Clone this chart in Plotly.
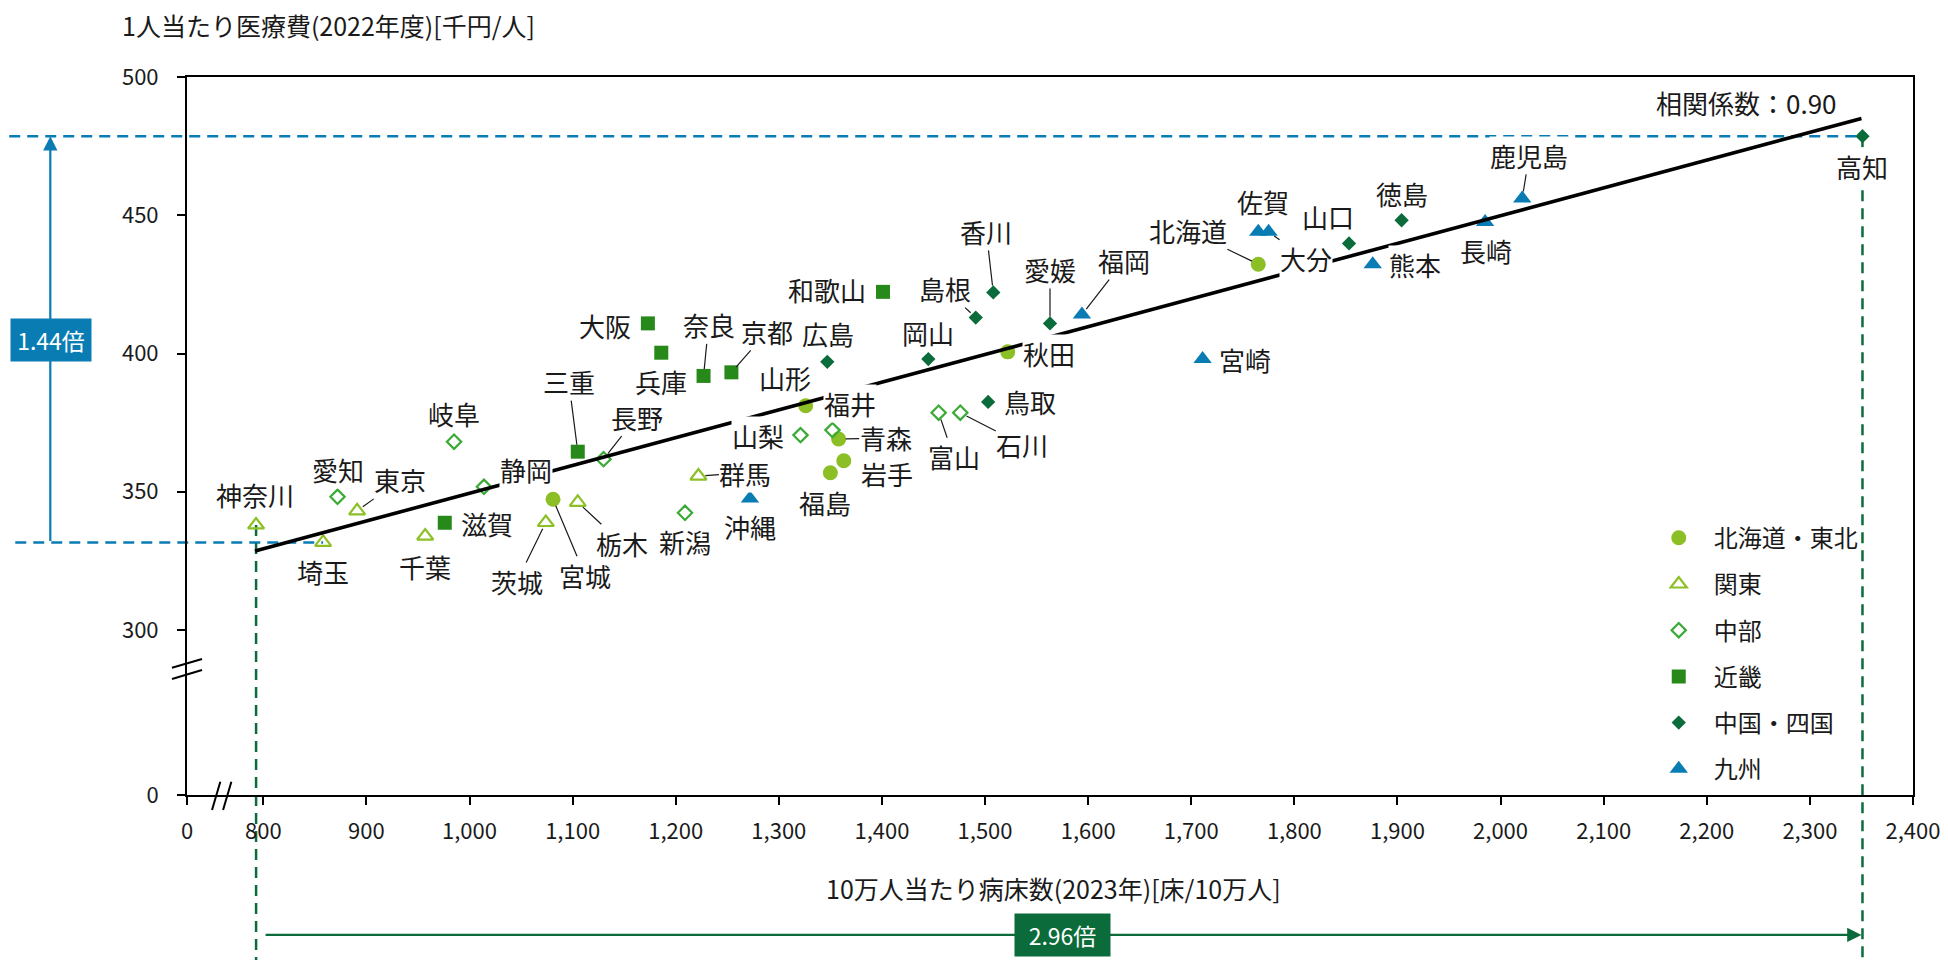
import plotly.graph_objects as go

# ---------------- data ----------------
regions = ["北海道・東北", "関東", "中部", "近畿", "中国・四国", "九州"]

tohoku_names = ["北海道", "青森", "岩手", "宮城", "秋田", "山形", "福島"]
tohoku_beds = [1765, 1358, 1363, 1081, 1522, 1326, 1350]
tohoku_cost = [432.3, 369.1, 361.2, 347.3, 400.6, 381.1, 356.9]

kanto_names = ["茨城", "栃木", "群馬", "埼玉", "千葉", "東京", "神奈川"]
kanto_beds = [1074, 1105, 1222, 858, 957, 891, 793]
kanto_cost = [338.9, 346.2, 355.7, 331.7, 334.0, 343.1, 338.0]

chubu_names = ["新潟", "富山", "石川", "福井", "山梨", "長野", "岐阜", "静岡", "愛知"]
chubu_beds = [1209, 1455, 1476, 1352, 1321, 1130, 985, 1014, 872]
chubu_cost = [342.4, 378.6, 378.6, 372.3, 370.5, 361.8, 368.1, 351.8, 348.2]

kinki_names = ["三重", "滋賀", "京都", "大阪", "兵庫", "奈良", "和歌山"]
kinki_beds = [1105, 976, 1254, 1173, 1186, 1227, 1401]
kinki_cost = [364.5, 338.8, 393.2, 410.9, 400.3, 391.9, 422.3]

chushi_names = ["鳥取", "島根", "岡山", "広島", "山口", "徳島", "香川", "愛媛", "高知"]
chushi_beds = [1503, 1491, 1445, 1347, 1853, 1904, 1508, 1563, 2351]
chushi_cost = [382.5, 413.0, 398.0, 397.0, 439.8, 448.2, 422.1, 410.9, 478.6]

kyushu_names = ["福岡", "佐賀", "長崎", "熊本", "大分", "宮崎", "鹿児島", "沖縄"]
kyushu_beds = [1594, 1765, 1985, 1876, 1775, 1711, 2021, 1272]
kyushu_cost = [414.1, 444.0, 447.6, 432.3, 444.0, 398.0, 456.1, 347.6]

trend_beds = [792, 2350]
trend_cost = [328.6, 485.0]

x_tick_values = [800, 900, 1000, 1100, 1200, 1300, 1400, 1500, 1600, 1700, 1800,
                 1900, 2000, 2100, 2200, 2300, 2400]
y_tick_values = [300, 350, 400, 450, 500]
corr_text = "相関係数：0.90"
ratio_cost_text = "1.44倍"
ratio_beds_text = "2.96倍"

# ---------------- styles / layout constants ----------------
FONT = "Noto Sans CJK JP"
X0_FAKE = 726.0      # axis position shown as "0" (broken axis)
Y0_FAKE = 240.35
XMAX, YMAX = 2400, 500

styles = [
    dict(symbol="circle", size=15, color="#8cbf26", lw=0),
    dict(symbol="triangle-up-open", size=14, color="#8cc026", lw=2.2),
    dict(symbol="diamond-open", size=11, color="#3aaa35", lw=2.2),
    dict(symbol="square", size=14, color="#26891a", lw=0),
    dict(symbol="diamond", size=11, color="#0b6b3a", lw=0),
    dict(symbol="triangle-up", size=16, color="#0a7cb4", lw=0),
]

# label offsets in pixels (dx right, dy down) and whether a leader line is drawn
label_pos = {
    "神奈川": (-1, -30, False), "埼玉": (0, 29, False), "愛知": (0, -27, False),
    "東京": (43, -31, True), "岐阜": (0, -28, False), "千葉": (0, 30, False),
    "滋賀": (42, 1, False), "静岡": (42, -17, False), "三重": (-9, -70, True),
    "長野": (33, -42, True), "茨城": (-29, 59, True), "宮城": (32, 76, True),
    "栃木": (44, 41, True), "新潟": (0, 29, False), "群馬": (47, -3, True),
    "沖縄": (0, 28, False), "福島": (-5, 30, False), "岩手": (43, 13, False),
    "青森": (47, -1, True), "山梨": (-42, 0, False), "福井": (18, -27, False),
    "山形": (-21, -28, False), "広島": (1, -28, False), "京都": (36, -41, True),
    "奈良": (5, -51, True), "兵庫": (0, 29, False), "大阪": (-43, 2, False),
    "和歌山": (-56, -2, False), "岡山": (0, -27, False), "島根": (-31, -29, True),
    "香川": (-7, -61, True), "愛媛": (0, -54, True), "福岡": (42, -54, True),
    "秋田": (41, 2, False), "鳥取": (42, 0, False), "富山": (15, 44, True),
    "石川": (62, 32, True), "宮崎": (42, 0, False), "北海道": (-70, -34, True),
    "佐賀": (5, -30, False), "大分": (37, 27, True), "山口": (-21, -27, False),
    "徳島": (0, -27, False), "熊本": (42, 0, False), "長崎": (1, 29, False),
    "鹿児島": (7, -43, True), "高知": (0, 30, False),
}

all_names = [tohoku_names, kanto_names, chubu_names, kinki_names, chushi_names, kyushu_names]
all_beds = [tohoku_beds, kanto_beds, chubu_beds, kinki_beds, chushi_beds, kyushu_beds]
all_cost = [tohoku_cost, kanto_cost, chubu_cost, kinki_cost, chushi_cost, kyushu_cost]

fig = go.Figure()
for reg, nm, bx, cy, st in zip(regions, all_names, all_beds, all_cost, styles):
    fig.add_trace(go.Scatter(
        x=bx, y=cy, mode="markers", name=reg, text=nm, legendgroup=reg,
        marker=dict(symbol=st["symbol"], size=st["size"], color=st["color"],
                    line=dict(width=st["lw"], color=st["color"])),
        hovertemplate="%{text}<br>%{x}<br>%{y}<extra></extra>",
    ))

fig.add_trace(go.Scatter(x=trend_beds, y=trend_cost, mode="lines",
                         line=dict(color="black", width=3.6), showlegend=False,
                         hoverinfo="skip"))

LABEL_FONT = dict(family=FONT, size=26, color="#1a1a1a")
annotations = []
for nm, bx, cy in zip(all_names, all_beds, all_cost):
    for n, xv, yv in zip(nm, bx, cy):
        dx, dy, leader = label_pos[n]
        a = dict(x=xv, y=yv, xref="x", yref="y", text=n, font=LABEL_FONT,
                 bgcolor="white", borderpad=0, xanchor="center", yanchor="middle")
        if leader:
            a.update(showarrow=True, arrowhead=0, arrowwidth=1.2, arrowcolor="#1a1a1a",
                     ax=dx, ay=dy, standoff=7)
        else:
            a.update(showarrow=False, xshift=dx, yshift=-dy)
        annotations.append(a)

# extreme values for the ratio guides
all_x = [v for lst in all_beds for v in lst]
all_y = [v for lst in all_cost for v in lst]
x_min, x_max = min(all_x), max(all_x)
y_min, y_max = min(all_y), max(all_y)
y_at_xmin = all_y[all_x.index(x_min)]
y_at_xmax = all_y[all_x.index(x_max)]
x_at_ymin = all_x[all_y.index(y_min)]
x_at_ymax = all_x[all_y.index(y_max)]


def xpaper(v):
    return (v - X0_FAKE) / (XMAX - X0_FAKE)


def ypaper(v):
    return (v - Y0_FAKE) / (YMAX - Y0_FAKE)


BLUE = "#0a7cb4"
GREEN = "#0b6b3a"
DASH = "11px,7px"
shapes = [
    dict(type="line", xref="paper", yref="y", x0=-0.103, x1=xpaper(x_at_ymax), y0=y_max, y1=y_max,
         line=dict(color=BLUE, width=2.5, dash=DASH), layer="below"),
    dict(type="line", xref="paper", yref="y", x0=-0.0995, x1=xpaper(x_at_ymin), y0=y_min, y1=y_min,
         line=dict(color=BLUE, width=2.5, dash=DASH), layer="below"),
    dict(type="line", xref="x", yref="paper", x0=x_min, x1=x_min, y0=ypaper(y_at_xmin), y1=-0.23,
         line=dict(color=GREEN, width=2.5, dash=DASH), layer="below"),
    dict(type="line", xref="x", yref="paper", x0=x_max, x1=x_max, y0=ypaper(y_at_xmax), y1=-0.23,
         line=dict(color=GREEN, width=2.5, dash=DASH), layer="below"),
    # axis break marks
    dict(type="line", xref="paper", yref="paper", x0=-0.0087, y0=0.1772, x1=0.0087, y1=0.1894,
         line=dict(color="black", width=2)),
    dict(type="line", xref="paper", yref="paper", x0=-0.0087, y0=0.1615, x1=0.0087, y1=0.1740,
         line=dict(color="black", width=2)),
    dict(type="line", xref="paper", yref="paper", x0=0.0145, y0=-0.0209, x1=0.0193, y1=0.0185,
         line=dict(color="black", width=2)),
    dict(type="line", xref="paper", yref="paper", x0=0.0209, y0=-0.0209, x1=0.0257, y1=0.0185,
         line=dict(color="black", width=2)),
]

# ratio arrows
annotations.append(dict(xref="paper", yref="y", x=-0.0792, y=y_max, text="",
                        showarrow=True, axref="pixel", ayref="y", ax=0, ay=y_min,
                        arrowhead=2, arrowsize=1.3, arrowwidth=2.2, arrowcolor=BLUE,
                        font=dict(size=2)))
annotations.append(dict(xref="paper", yref="paper", x=-0.0786, y=0.6342, text=ratio_cost_text,
                        xanchor="center", yanchor="middle",
                        showarrow=False, bgcolor=BLUE, font=dict(family=FONT, size=23, color="white"),
                        width=78, height=40))
annotations.append(dict(xref="x", yref="paper", x=x_max, y=-0.1949, text="",
                        showarrow=True, axref="x", ayref="pixel", ax=x_min, ay=0,
                        startstandoff=8, standoff=1,
                        arrowhead=2, arrowsize=1.3, arrowwidth=2.2, arrowcolor=GREEN,
                        font=dict(size=2)))
annotations.append(dict(xref="paper", yref="paper", x=0.5073, y=-0.1949, text=ratio_beds_text,
                        xanchor="center", yanchor="middle",
                        showarrow=False, bgcolor=GREEN, font=dict(family=FONT, size=23, color="white"),
                        width=93, height=40))

# titles
TITLE_FONT = dict(family=FONT, size=25, color="#1a1a1a")
annotations.append(dict(xref="paper", yref="paper", x=-0.0386, y=1.072, xanchor="left", yanchor="middle",
                        text="1人当たり医療費(2022年度)[千円/人]", showarrow=False, font=TITLE_FONT))
annotations.append(dict(xref="paper", yref="paper", x=0.5018, y=-0.1295, xanchor="center", yanchor="middle",
                        text="10万人当たり病床数(2023年)[床/10万人]", showarrow=False, font=TITLE_FONT))
annotations.append(dict(xref="paper", yref="paper", x=0.957, y=0.965, xanchor="right", yanchor="middle",
                        text=corr_text, showarrow=False,
                        font=dict(family=FONT, size=26, color="#1a1a1a")))

fig.update_layout(
    width=1948, height=960,
    margin=dict(l=187, r=35, t=77, b=165, pad=0, autoexpand=False),
    paper_bgcolor="white", plot_bgcolor="white",
    font=dict(family=FONT, size=22, color="#1a1a1a"),
    shapes=shapes, annotations=annotations,
    legend=dict(x=0.844, y=0.389, xanchor="left", yanchor="top",
                font=dict(family=FONT, size=24, color="#1a1a1a"),
                tracegroupgap=12, traceorder="grouped", itemwidth=60,
                bgcolor="rgba(0,0,0,0)"),
    showlegend=True,
)
TICK_FONT = dict(family=FONT, size=22, color="#1a1a1a")
fig.update_xaxes(range=[X0_FAKE, XMAX], tickvals=[X0_FAKE] + x_tick_values,
                 ticktext=["0"] + [f"{v:,}" for v in x_tick_values],
                 showline=True, linecolor="black", linewidth=2, mirror=True,
                 ticks="outside", ticklen=8, tickwidth=2, tickcolor="black",
                 showgrid=False, zeroline=False, ticklabelstandoff=8, automargin=False,
                 tickfont=TICK_FONT)
fig.update_yaxes(range=[Y0_FAKE, YMAX], tickvals=[Y0_FAKE] + y_tick_values,
                 ticktext=["0"] + [str(v) for v in y_tick_values],
                 showline=True, linecolor="black", linewidth=2, mirror=True,
                 ticks="outside", ticklen=8, tickwidth=2, tickcolor="black",
                 showgrid=False, zeroline=False, ticklabelstandoff=14, automargin=False,
                 tickfont=TICK_FONT)

fig.write_html("out.html", config={"displayModeBar": False},
               post_script="document.body.style.margin='0';")
